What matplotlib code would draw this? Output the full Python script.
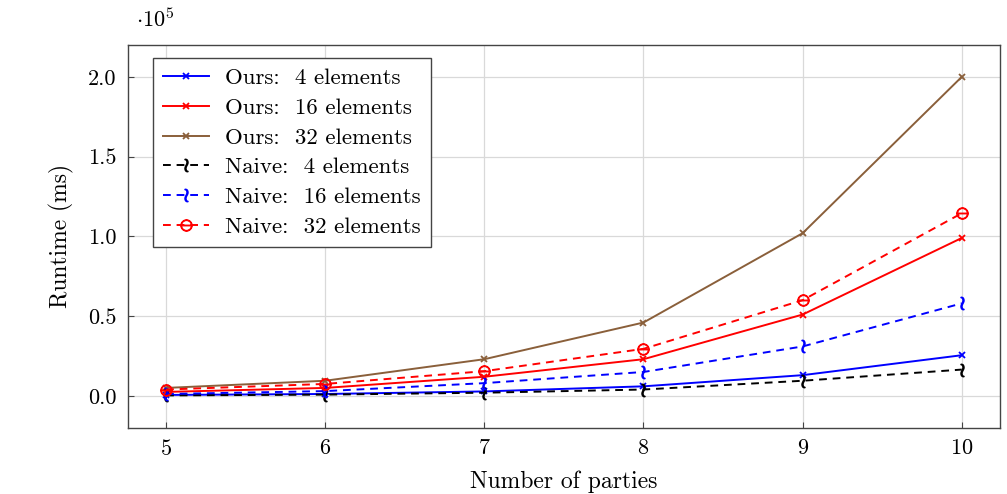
import matplotlib
matplotlib.use("Agg")
import matplotlib.pyplot as plt
from matplotlib.ticker import FuncFormatter

plt.rcParams['font.family'] = ['cmr10', 'DejaVu Serif']
plt.rcParams['mathtext.fontset'] = 'cm'
plt.rcParams['axes.unicode_minus'] = False
plt.rcParams['axes.formatter.use_mathtext'] = True

parties = [5, 6, 7, 8, 9, 10]
ours_4 = [600, 1200, 2800, 6000, 13000, 25500]
ours_16 = [2500, 5000, 12000, 23000, 51000, 99000]
ours_32 = [5000, 9500, 23000, 46000, 102000, 200000]
naive_4 = [300, 800, 2000, 4000, 9500, 16500]
naive_16 = [1200, 3000, 8000, 15000, 31000, 58000]
naive_32 = [4000, 7500, 15500, 29500, 60000, 114500]

brown = '#8a5f3a'
wave = r'$\wr$'

fig = plt.figure(figsize=(10.07, 4.94), dpi=100)
ax = fig.add_axes([0.127, 0.134, 0.866, 0.775])

ax.plot(parties, ours_4, color='blue', marker='x', ms=4.5, mew=1.3, lw=1.4, label='Ours:  4 elements')
ax.plot(parties, ours_16, color='red', marker='x', ms=4.5, mew=1.3, lw=1.4, label='Ours:  16 elements')
ax.plot(parties, ours_32, color=brown, marker='x', ms=4.5, mew=1.3, lw=1.4, label='Ours:  32 elements')
ax.plot(parties, naive_4, color='black', ls=(0, (4, 3)), marker=wave, ms=9, lw=1.4, label='Naive:  4 elements')
ax.plot(parties, naive_16, color='blue', ls=(0, (4, 3)), marker=wave, ms=9, lw=1.4, label='Naive:  16 elements')
ax.plot(parties, naive_32, color='red', ls=(0, (4, 3)), marker=r'$\ominus$', ms=8, lw=1.4, label='Naive:  32 elements')

ax.set_xlim(4.76, 10.24)
ax.set_ylim(-20000, 220000)
ax.set_xticks(parties)
ax.set_yticks([0, 50000, 100000, 150000, 200000])
ax.yaxis.set_major_formatter(FuncFormatter(lambda v, p: '%.1f' % (v / 1e5)))
ax.grid(True, color='#d9d9d9', lw=0.9)
ax.set_axisbelow(True)
ax.tick_params(direction='in', length=4, color='#444444', labelsize=16, pad=8)
for s in ax.spines.values():
    s.set_color('#444444')
    s.set_linewidth(1.0)

ax.set_xlabel('Number of parties', fontsize=17, labelpad=8)
ax.set_ylabel('Runtime (ms)', fontsize=17, labelpad=10)
fig.text(0.135, 0.945, r'$\cdot10^5$', fontsize=16)

leg = ax.legend(loc='upper left', bbox_to_anchor=(0.029, 0.966), borderaxespad=0, fontsize=16.5,
                fancybox=False, edgecolor='#444444', framealpha=1, handlelength=2.0,
                labelspacing=0.42, borderpad=0.45, handletextpad=0.7)
leg.get_frame().set_linewidth(1.0)

fig.savefig('out.png', dpi=100)
